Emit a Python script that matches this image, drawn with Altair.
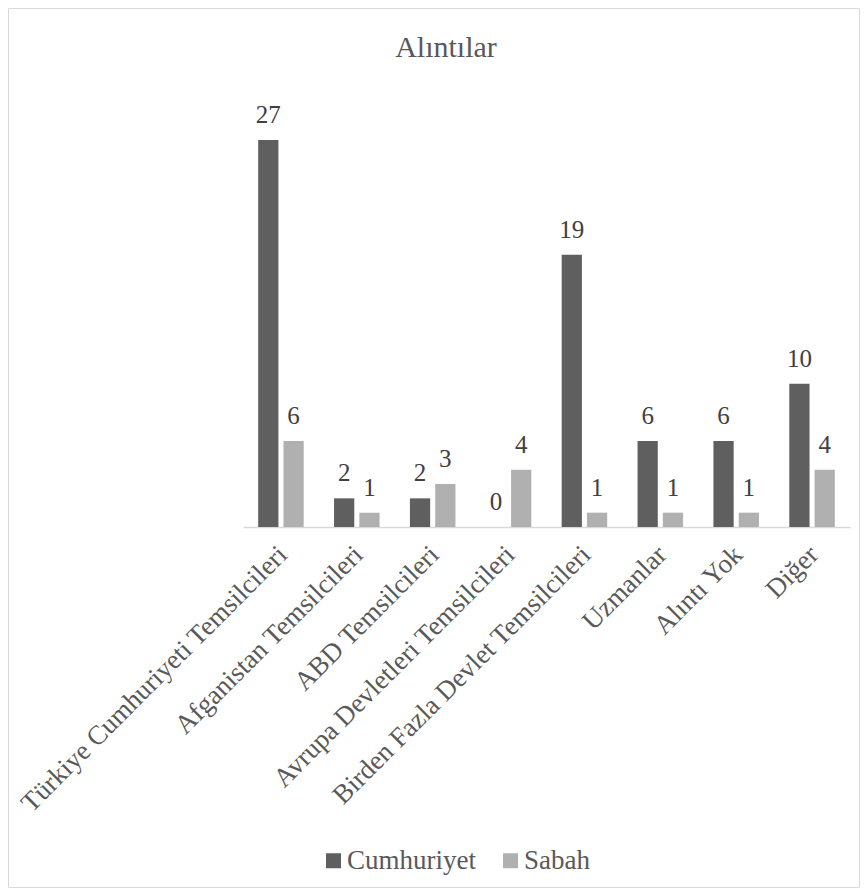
import altair as alt
import pandas as pd

categories = [
    "Türkiye Cumhuriyeti Temsilcileri",
    "Afganistan Temsilcileri",
    "ABD Temsilcileri",
    "Avrupa Devletleri Temsilcileri",
    "Birden Fazla Devlet Temsilcileri",
    "Uzmanlar",
    "Alıntı Yok",
    "Diğer",
]
cumhuriyet = [27, 2, 2, 0, 19, 6, 6, 10]
sabah = [6, 1, 3, 4, 1, 1, 1, 4]
series = ["Cumhuriyet", "Sabah"]
colors = ["#5f5f5f", "#b0b0b0"]
title_text = ["Alıntılar"]

rows = []
for c, a, b in zip(categories, cumhuriyet, sabah):
    rows.append({"kategori": c, "seri": series[0], "deger": a})
    rows.append({"kategori": c, "seri": series[1], "deger": b})
df = pd.DataFrame(rows)

FONT = "'Liberation Serif', 'DejaVu Serif', serif"
W, H = 607, 387
PL, PT, PR, PB = 235, 132, 10, 361

x = alt.X(
    "kategori:N",
    sort=categories,
    scale=alt.Scale(paddingInner=0.4, paddingOuter=0.2),
    axis=alt.Axis(
        title=None,
        labelAngle=-45,
        labelAlign="right",
        labelBaseline="top",
        labelFont=FONT,
        labelFontSize=27,
        labelColor="#595959",
        labelPadding=14,
        labelOffset=-7,
        labelLimit=0,
        ticks=False,
        domainColor="#d9d9d9",
        domainWidth=1.5,
    ),
)
xo = alt.XOffset("seri:N", sort=series, scale=alt.Scale(paddingInner=0.2, paddingOuter=0))
y = alt.Y("deger:Q", scale=alt.Scale(domain=[0, 27], nice=False), axis=None)

base = alt.Chart(df)

bars = base.mark_bar().encode(
    x=x,
    xOffset=xo,
    y=y,
    color=alt.Color(
        "seri:N",
        sort=series,
        scale=alt.Scale(domain=series, range=colors),
        legend=alt.Legend(
            title=None,
            orient="none",
            legendX=77,
            legendY=707,
            direction="horizontal",
            symbolType="square",
            symbolSize=225,
            symbolStrokeWidth=0,
            labelFont=FONT,
            labelFontSize=27,
            labelColor="#595959",
            labelOffset=0,
            columnPadding=21,
            padding=0,
        ),
    ),
)

labels = base.mark_text(
    baseline="alphabetic", dy=-17, font=FONT, fontSize=25, color="#404040"
).encode(x=x, xOffset=xo, y=y, text="deger:Q")

border = alt.Chart(alt.Data(values=[{}])).mark_rect(
    fillOpacity=0, stroke="#d9d9d9", strokeWidth=1
).encode(
    x=alt.value(-PL + 0.5),
    x2=alt.value(W + PR - 0.5),
    y=alt.value(-PT + 0.5),
    y2=alt.value(H + PB - 0.5),
)

title = alt.Chart(pd.DataFrame({"t": title_text})).mark_text(
    font=FONT, fontSize=30, color="#595959", baseline="alphabetic", align="center"
).encode(x=alt.value(446 - 243), y=alt.value(57 - 140), text="t:N")

chart = (
    alt.layer(border, title, bars, labels)
    .properties(
        width=W,
        height=H,
        autosize=alt.AutoSizeParams(type="none"),
        padding={"left": PL, "top": PT, "right": PR, "bottom": PB},
        background="white",
    )
    .configure_view(stroke=None)
)

chart.save("out.html", embed_options={"renderer": "svg", "actions": False})
